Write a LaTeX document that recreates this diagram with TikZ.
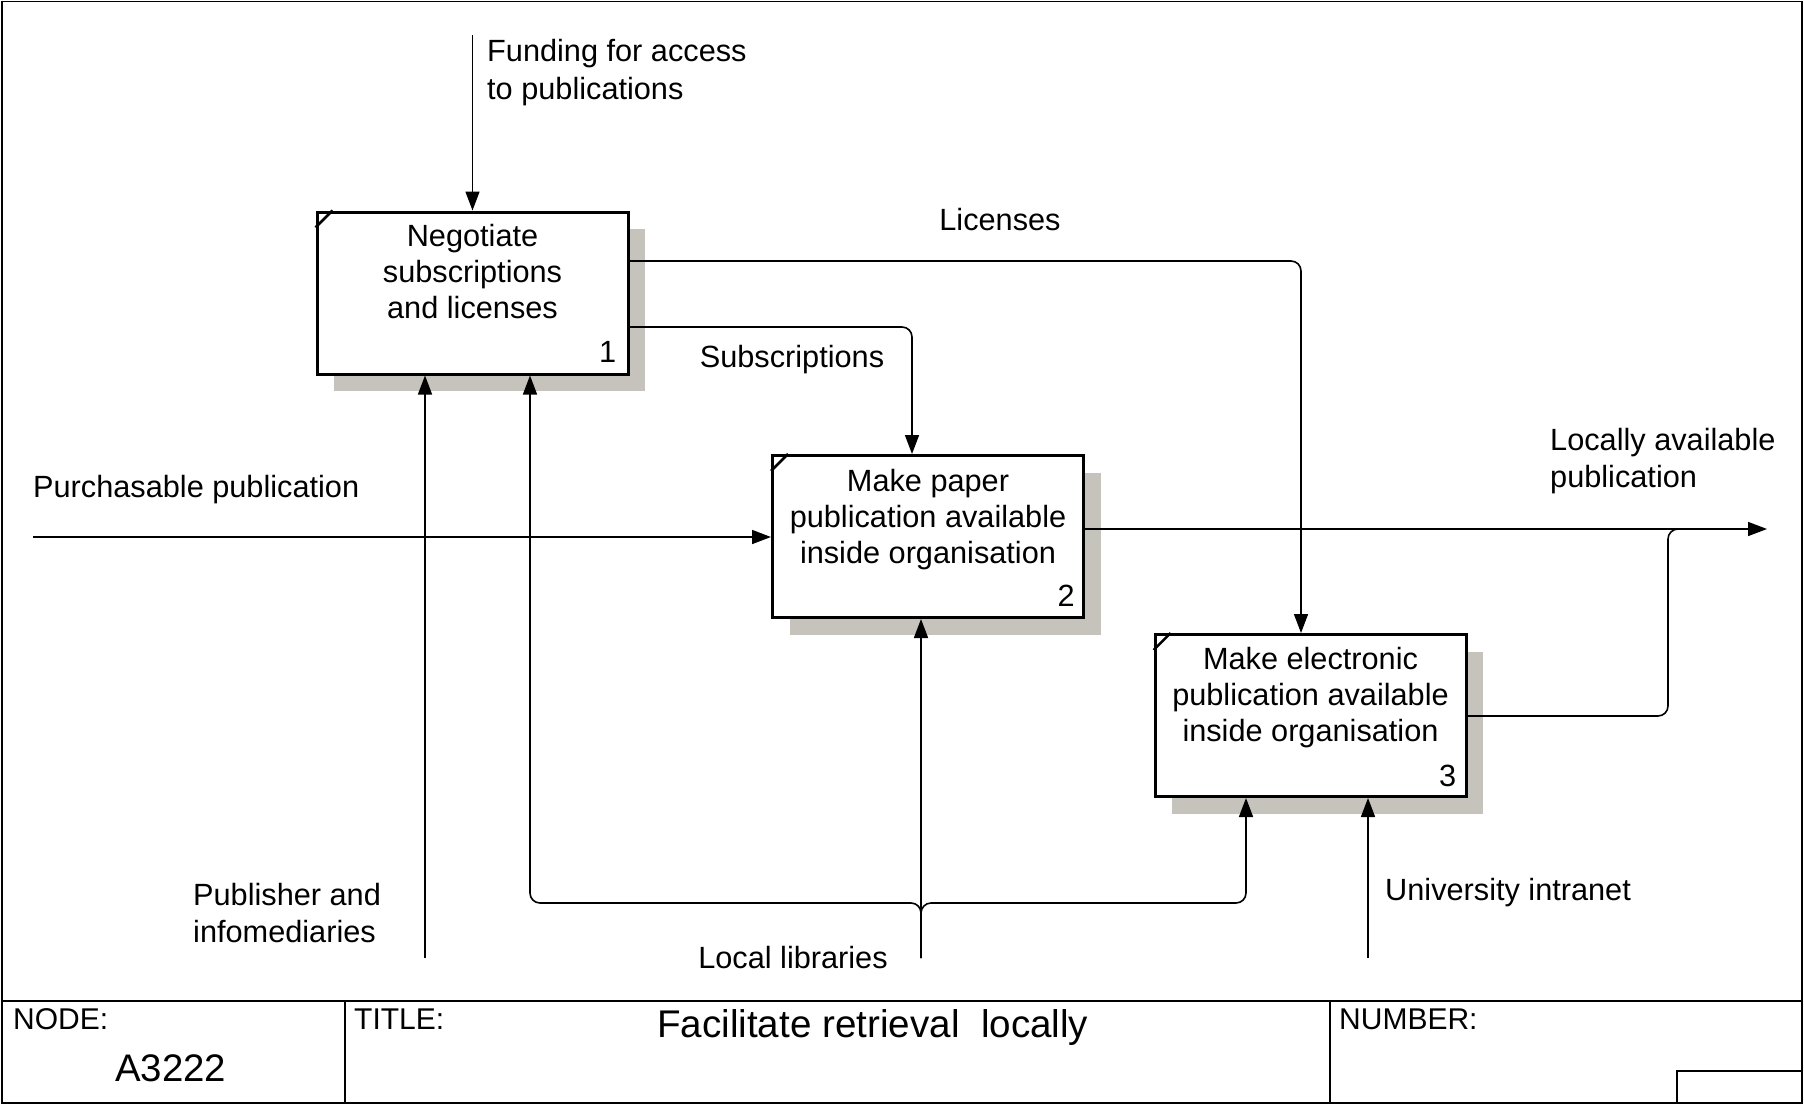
\documentclass[tikz,border=0pt]{standalone}
\usepackage{fontspec}
\setmainfont{Liberation Sans}
\usetikzlibrary{arrows.meta,shadows,calc}
\definecolor{shadowc}{RGB}{198,195,188}
\newcommand{\ltext}[1]{\begin{tabular}[t]{@{}l@{}}#1\end{tabular}}
\newcommand{\ctext}[1]{\begin{tabular}[t]{@{}c@{}}#1\end{tabular}}
\begin{document}
\begin{tikzpicture}[x=1pt,y=-1pt,
  txt/.style={font=\fontsize{30.7}{36}\selectfont, inner sep=0pt},
  lbltxt/.style={font=\fontsize{30.7}{37}\selectfont, inner sep=0pt},
  hdr/.style={font=\fontsize{30}{36}\selectfont, inner sep=0pt, anchor=base west},
  actbox/.style={draw, line width=3pt, fill=white, minimum width=311pt, minimum height=162pt, inner sep=0pt,
     drop shadow={shadow xshift=17pt, shadow yshift=-17pt, fill=shadowc, opacity=1}},
  tick/.style={line width=2.5pt},
  conn/.style={line width=1.6pt, -{Triangle[length=19pt,width=14pt]}},
  plain/.style={line width=1.6pt},
  frame/.style={line width=1.8pt}
]
\useasboundingbox (0,0) rectangle (1804,1105);
\fill[white] (0,0) rectangle (1804,1105);

% frame and title block
\draw[frame] (2,1.5) rectangle (1802,1103);
\draw[frame] (2,1001) -- (1802,1001);
\draw[frame] (345,1001) -- (345,1103);
\draw[frame] (1330,1001) -- (1330,1103);
\draw[frame] (1677,1103) -- (1677,1071) -- (1802,1071);
\node[hdr] (hnode) at (13,1029) {NODE:};
\node[hdr, font=\fontsize{38.4}{44}\selectfont] (hnum) at (115,1081) {A3222};
\node[hdr] (htitle) at (354,1029) {TITLE:};
\node[hdr, font=\fontsize{38.6}{44}\selectfont] (htext) at (657,1037) {Facilitate retrieval\ \ locally};
\node[hdr] (hnumber) at (1339,1029) {NUMBER:};

% activity boxes
\node[actbox] (b1) at (472.5,293) {};
\node[actbox] (b2) at (928,536.5) {};
\node[actbox] (b3) at (1310.5,715.5) {};
\foreach \b in {b1,b2,b3}{
  \draw[tick] ([yshift=-17pt]\b.north west) -- ([xshift=17pt]\b.north west);
}
\node[txt, anchor=base] (t1) at ([yshift=-36pt]b1.north) {\ctext{Negotiate\\subscriptions\\and licenses}};
\node[txt, anchor=base] (t2) at ([yshift=-37.5pt]b2.north) {\ctext{Make paper\\publication available\\inside organisation}};
\node[txt, anchor=base] (t3) at ([yshift=-36pt]b3.north) {\ctext{Make electronic\\publication available\\inside organisation}};
\node[txt, anchor=base east] (n1) at ([shift={(-13pt,13pt)}]b1.south east) {1};
\node[txt, anchor=base east] (n2) at ([shift={(-10pt,13pt)}]b2.south east) {2};
\node[txt, anchor=base east] (n3) at ([shift={(-11pt,12pt)}]b3.south east) {3};

% coordinates
\coordinate (fund) at (472.5,35);
\coordinate (licT) at (1301,261);
\coordinate (subT) at (912,327);
\coordinate (purch) at (33,537);
\coordinate (outE) at (1767,529);
\coordinate (j1) at (1668,716);
\coordinate (j2) at (1668,529);
\coordinate (j3) at (1690,529);
\coordinate (pub) at (425,958);
\coordinate (ll) at (921,958);
\coordinate (llb) at (921,903);
\coordinate (llL) at (530,903);
\coordinate (llR) at (1246,903);
\coordinate (uni) at (1368,958);

% connectors
\draw[conn] (fund) -- (b1.north);
\draw[conn, rounded corners=10pt] (b1.east |- licT) -- (licT) -- (licT |- b3.north);
\draw[conn, rounded corners=10pt] (b1.east |- subT) -- (subT) -- (subT |- b2.north);
\draw[conn] (purch) -- (purch -| b2.west);
\draw[conn] (b2.east |- outE) -- (outE);
\draw[plain, rounded corners=10pt] (b3.east |- j1) -- (j1) -- (j2) -- (j3);
\draw[conn] (pub) -- (pub |- b1.south);
\draw[conn] (ll) -- (ll |- b2.south);
\draw[conn, rounded corners=10pt] (ll) -- (llb) -- (llL) -- (llL |- b1.south);
\draw[conn, rounded corners=10pt] (ll) -- (llb) -- (llR) -- (llR |- b3.south);
\draw[conn] (uni) -- (uni |- b3.south);

% labels
\node[lbltxt, font=\fontsize{30.7}{38}\selectfont, anchor=base west] (lfund) at (487,62) {\ltext{Funding for access\\to publications}};
\node[txt, anchor=base] (llic) at (1000,230) {Licenses};
\node[txt, anchor=base] (lsub) at (792,367) {Subscriptions};
\node[txt, anchor=base west] (lpurch) at (33,497) {Purchasable publication};
\node[lbltxt, anchor=base west] (lout) at (1550,450) {\ltext{Locally available\\publication}};
\node[lbltxt, anchor=base west] (lpub) at (193,905) {\ltext{Publisher and\\infomediaries}};
\node[txt, anchor=base] (lll) at (793,968) {Local libraries};
\node[txt, anchor=base west] (luni) at (1385,900) {University intranet};
\end{tikzpicture}
\end{document}
